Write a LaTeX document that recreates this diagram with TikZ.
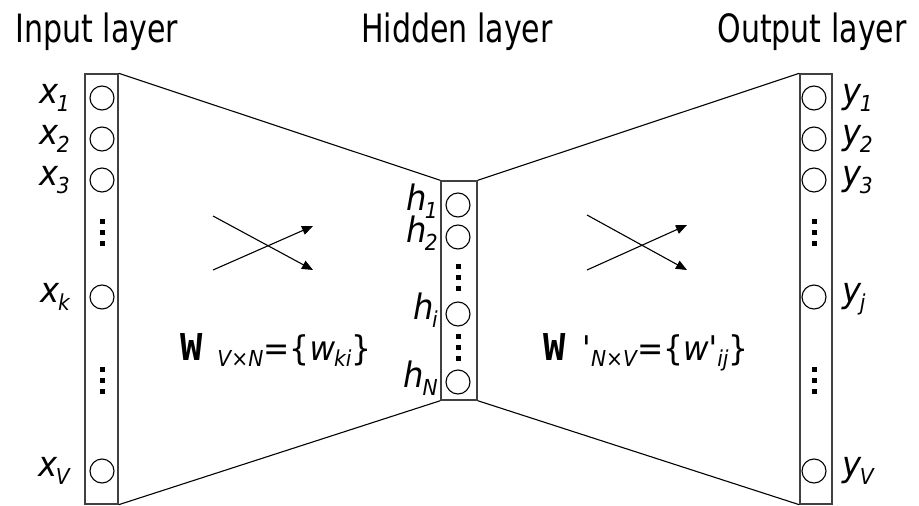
\documentclass[tikz,border=0pt]{standalone}
\usepackage{fontspec}
\setmainfont{DejaVu Sans}[FakeStretch=0.77]
\newfontfamily\lblfont{DejaVu Sans}[FakeStretch=0.92]
\newfontfamily\wfont{DejaVu Sans Mono}
\usetikzlibrary{arrows.meta}
\newcommand\subsz{\fontsize{22}{22}\selectfont}
\newcommand\ivar[2]{\lblfont\itshape #1\kern-1.5pt\raisebox{-8pt}{\subsz #2}}

\tikzset{
  layerbox/.style={draw=black!75, line width=1.4pt, minimum width=33pt, inner sep=0pt},
  unit/.style={circle, draw, line width=1.1pt, minimum size=24pt, inner sep=0pt},
  varlabel/.style={font=\fontsize{35}{40}\selectfont, inner sep=0pt},
  title/.style={font=\fontsize{39}{44}\selectfont, anchor=base, inner sep=0pt},
  weight/.style={-{Triangle[length=11pt,width=9pt]}, line width=1.1pt},
  wlabel/.style={font=\lblfont\fontsize{34}{40}\selectfont, anchor=base west, inner sep=0pt},
}

\begin{document}
\begin{tikzpicture}[x=1pt,y=-1pt]
\useasboundingbox (0,0) rectangle (919,506);
% Schichten
\node[layerbox, minimum height=430pt] (inbox) at (101.5,289) {};
\node[layerbox, minimum width=36pt, minimum height=219pt] (hidbox) at (459,290.5) {};
\node[layerbox, minimum width=32pt, minimum height=430pt] (outbox) at (816,289) {};
% Titel
\node[title] (tin) at (97,42) {Input layer};
\node[title] (thid) at (457,42) {Hidden layer};
\node[title] (tout) at (812,42) {Output layer};
% Verbindungen
\draw[line width=1.1pt] (inbox.north east) -- (hidbox.north west);
\draw[line width=1.1pt] (inbox.south east) -- (hidbox.south west);
\draw[line width=1.1pt] (hidbox.north east) -- (outbox.north west);
\draw[line width=1.1pt] (hidbox.south east) -- (outbox.south west);
% Neuronen
\foreach \n/\y in {1/98,2/139,3/180,k/297,V/471} {
  \node[unit] (x\n) at (102,\y) {};
  \node[varlabel, anchor=base east] (lx\n) at (70,\y+5) {\ivar{x}{\n}};
}
\foreach \n/\y in {1/205,2/237,i/314,N/382} {
  \node[unit] (h\n) at (458,\y) {};
  \node[varlabel, anchor=base east] (lh\n) at (438,\y+5) {\ivar{h}{\n}};
}
\foreach \n/\y in {1/98,2/139,3/180,j/297,V/471} {
  \node[unit] (y\n) at (814,\y) {};
  \node[varlabel, anchor=base west] (ly\n) at (842,\y+5) {\ivar{y}{\n}};
}
% Punkte
\foreach \x/\y in {102/232,102/380,458/277,458/347,814/232,814/380}
  \foreach \d in {-11,0,11}
    \fill (\x-2.5,\y+\d-2.5) rectangle ++(5,5);
% Gewichte
\coordinate (wa1) at (213,216);
\coordinate (wa2) at (313,270);
\coordinate (wa3) at (213,270);
\coordinate (wa4) at (313,226);
\draw[weight] (wa1) -- (wa2);
\draw[weight] (wa3) -- (wa4);
\coordinate (wb1) at (587,215);
\coordinate (wb2) at (687,270);
\coordinate (wb3) at (587,270);
\coordinate (wb4) at (687,225);
\draw[weight] (wb1) -- (wb2);
\draw[weight] (wb3) -- (wb4);
\node[wlabel] (wleft) at (180,360) {{\wfont\bfseries\fontsize{37}{40}\selectfont W}\hspace{15pt}\raisebox{-6pt}{\subsz\itshape V×N}=\{{\itshape w\kern-1pt\raisebox{-6pt}{\subsz ki}}\}};
\node[wlabel] (wright) at (543,360) {{\wfont\bfseries\fontsize{37}{40}\selectfont W}\hspace{17pt}'\raisebox{-6pt}{\subsz\itshape N×V}=\{{\itshape w'\raisebox{-6pt}{\subsz ij}}\}};
\end{tikzpicture}
\end{document}
